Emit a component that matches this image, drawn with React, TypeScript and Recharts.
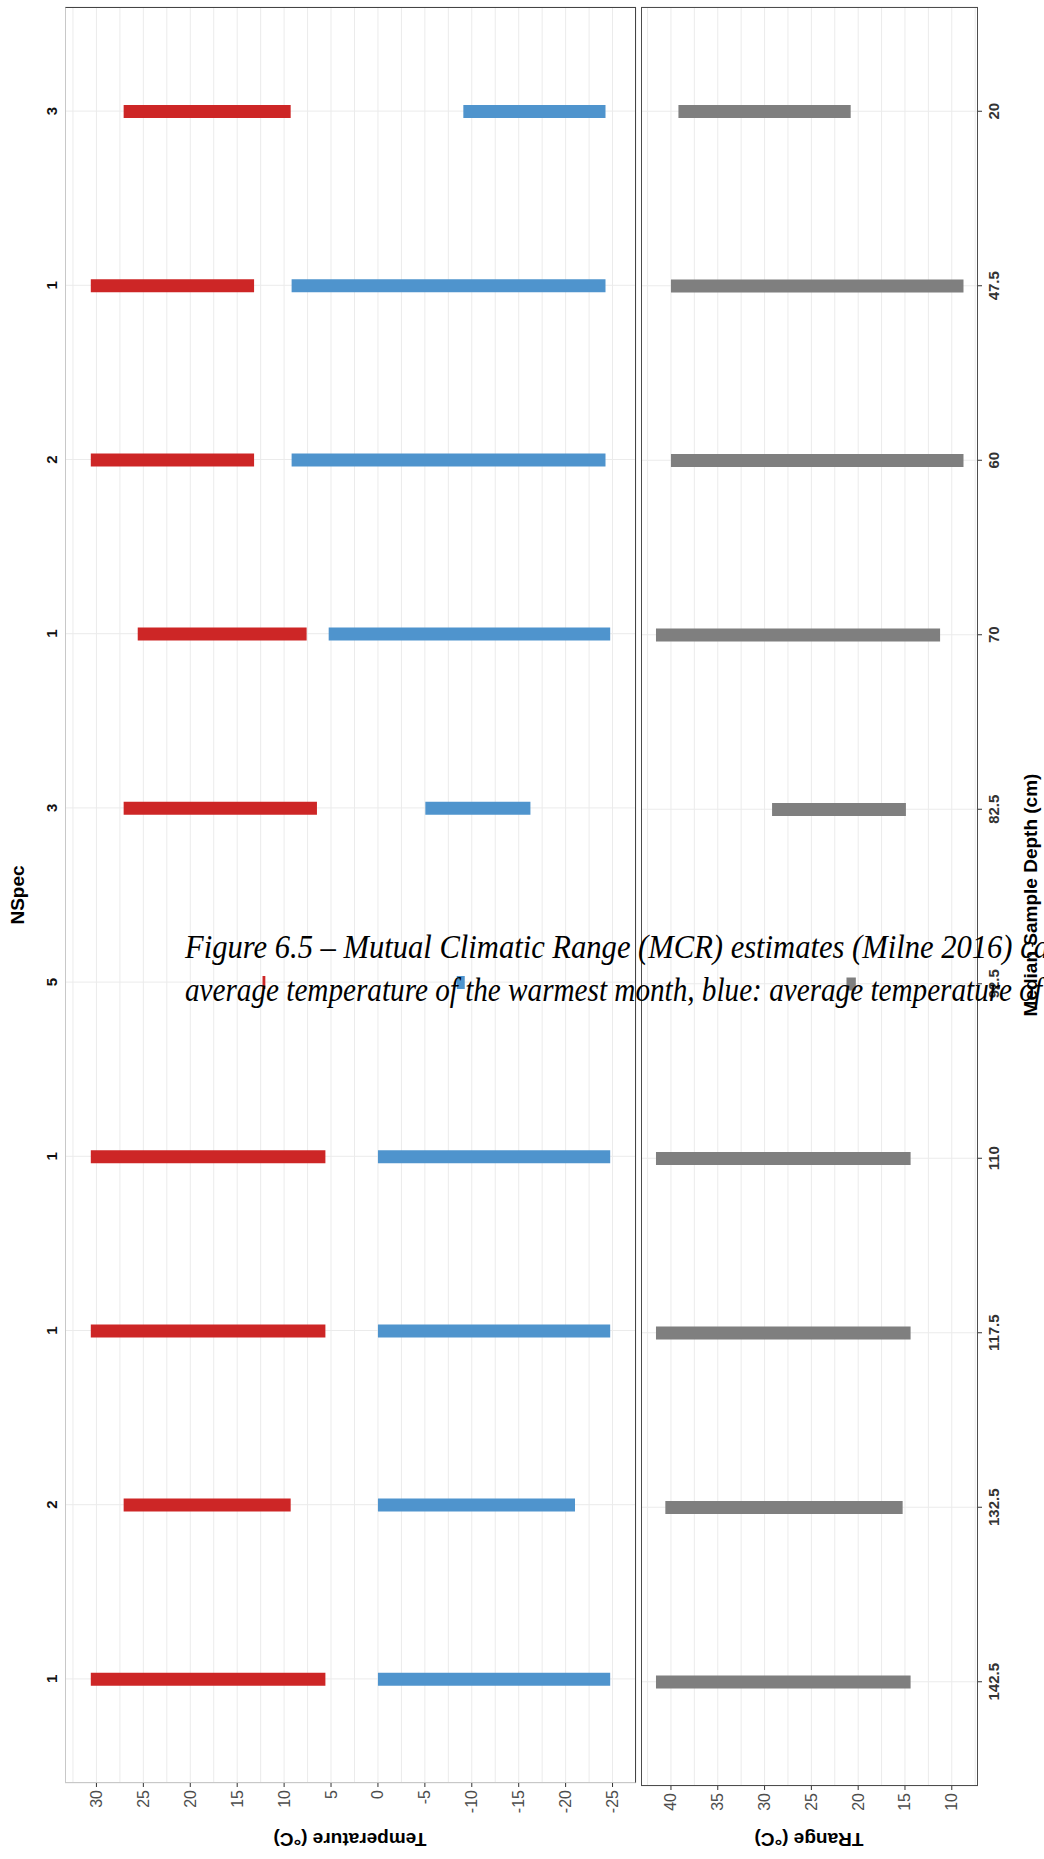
import React from "react";
import { BarChart, Bar, XAxis, YAxis, CartesianGrid } from "recharts";

// median sample depth (cm), top to bottom
const depths = ["20", "47.5", "60", "70", "82.5", "92.5", "110", "117.5", "132.5", "142.5"];
const nSpec = [3, 1, 2, 1, 3, 5, 1, 1, 2, 1];

// MCR: warmest month (red), coldest month (blue), range (grey)
const warmMin = [9.3, 13.2, 13.2, 7.6, 6.5, 12.0, 5.6, 5.6, 9.3, 5.6];
const warmMax = [27.1, 30.6, 30.6, 25.6, 27.1, 12.3, 30.6, 30.6, 27.1, 30.6];
const coldMin = [-24.25, -24.25, -24.25, -24.75, -16.25, -9.25, -24.75, -24.75, -21.0, -24.75];
const coldMax = [-9.1, 9.2, 9.2, 5.25, -5.05, -8.4, 0, 0, 0, 0];
const rangeMin = [20.8, 8.75, 8.75, 11.25, 14.9, 20.25, 14.4, 14.4, 15.25, 14.4];
const rangeMax = [39.2, 40.0, 40.0, 41.6, 29.2, 21.25, 41.6, 41.6, 40.6, 41.6];

const tempTicks = [30, 25, 20, 15, 10, 5, 0, -5, -10, -15, -20, -25];
const tempGrid = [32.5, 30, 27.5, 25, 22.5, 20, 17.5, 15, 12.5, 10, 7.5, 5, 2.5, 0, -2.5, -5, -7.5, -10, -12.5, -15, -17.5, -20, -22.5, -25, -27.5];
const rangeTicks = [40, 35, 30, 25, 20, 15, 10];
const rangeGrid = [42.5, 40, 37.5, 35, 32.5, 30, 27.5, 25, 22.5, 20, 17.5, 15, 12.5, 10, 7.5];

const tempData = depths.map((d, i) => ({
  depth: d,
  warm: [warmMin[i], warmMax[i]],
  cold: [coldMin[i], coldMax[i]],
}));
const rangeData = depths.map((d, i) => ({
  depth: d,
  trange: [rangeMin[i], rangeMax[i]],
}));

const SANS = "'Liberation Sans', Arial, sans-serif";
const SERIF = "'Liberation Serif', 'Times New Roman', serif";
const GRID = "#EBEBEB";

function ValueTick(props: any) {
  const { x, y, payload } = props;
  return (
    <text
      x={0}
      y={0}
      transform={`translate(${x},${y + 1}) rotate(-90)`}
      textAnchor="end"
      dominantBaseline="central"
      fontFamily={SANS}
      fontSize={16}
      fill="#4D4D4D"
    >
      {payload.value}
    </text>
  );
}

function NSpecTick(props: any) {
  const { x, y, payload } = props;
  const i = depths.indexOf(String(payload.value));
  return (
    <text
      x={0}
      y={0}
      transform={`translate(${x - 8},${y}) rotate(-90)`}
      textAnchor="middle"
      fontFamily={SANS}
      fontSize={15}
      fontWeight="bold"
      fill="#111"
    >
      {nSpec[i]}
    </text>
  );
}

function DepthTick(props: any) {
  const { x, y, payload } = props;
  return (
    <text
      x={0}
      y={0}
      transform={`translate(${x + 15},${y}) rotate(-90)`}
      textAnchor="middle"
      fontFamily={SANS}
      fontSize={15}
      fontWeight="bold"
      fill="#333"
    >
      {payload.value}
    </text>
  );
}

export default function App() {
  return (
    <div
      style={{
        position: "absolute",
        left: 0,
        top: 0,
        width: 1044,
        height: 1859,
        background: "#fff",
        overflow: "hidden",
      }}
    >
      <div style={{ position: "absolute", left: 0, top: 0 }}>
        <BarChart
          width={1044}
          height={1859}
          layout="vertical"
          data={tempData}
          barGap={-13}
          margin={{ top: 7, bottom: 46, left: 5, right: 408 }}
        >
          <CartesianGrid stroke={GRID} verticalValues={tempGrid} />
          <XAxis
            type="number"
            domain={[-27.5, 33.35]}
            reversed
            allowDataOverflow
            ticks={tempTicks}
            interval={0}
            axisLine={false}
            tickLine={{ stroke: "#333" }}
            tickSize={4}
            tick={(p: any) => <ValueTick {...p} />}
          />
          <YAxis
            type="category"
            dataKey="depth"
            padding={{ top: 17, bottom: 17 }}
            axisLine={false}
            tickLine={false}
            tickSize={0}
            tickMargin={0}
            interval={0}
            tick={(p: any) => <NSpecTick {...p} />}
          />
          <Bar dataKey="warm" fill="#CD2626" barSize={13} isAnimationActive={false} />
          <Bar dataKey="cold" fill="#4F94CD" barSize={13} isAnimationActive={false} />
        </BarChart>
      </div>

      <div style={{ position: "absolute", left: 0, top: 0 }}>
        <BarChart
          width={1044}
          height={1859}
          layout="vertical"
          data={rangeData}
          margin={{ top: 7, bottom: 43, left: 641, right: 6 }}
        >
          <CartesianGrid stroke={GRID} verticalValues={rangeGrid} />
          <XAxis
            type="number"
            domain={[7.2, 43.2]}
            reversed
            allowDataOverflow
            ticks={rangeTicks}
            interval={0}
            axisLine={false}
            tickLine={{ stroke: "#333" }}
            tickSize={4}
            tick={(p: any) => <ValueTick {...p} />}
          />
          <YAxis
            type="category"
            dataKey="depth"
            orientation="right"
            padding={{ top: 17, bottom: 17 }}
            axisLine={false}
            tickLine={{ stroke: "#333" }}
            tickSize={4}
            interval={0}
            tick={(p: any) => <DepthTick {...p} />}
          />
          <Bar dataKey="trange" fill="#7F7F7F" barSize={13} isAnimationActive={false} />
        </BarChart>
      </div>

      {/* panel frames */}
      <div
        style={{
          position: "absolute",
          left: 65,
          top: 7,
          width: 571,
          height: 1776,
          boxSizing: "border-box",
          borderTop: "1.3px solid #444",
          borderRight: "1.3px solid #444",
          borderLeft: "1.3px solid #C8C8C8",
          borderBottom: "1.3px solid #C8C8C8",
        }}
      />
      <div
        style={{
          position: "absolute",
          left: 641,
          top: 7,
          width: 337,
          height: 1779,
          boxSizing: "border-box",
          border: "1.3px solid #4D4D4D",
        }}
      />

      <svg
        width={1044}
        height={1859}
        style={{ position: "absolute", left: 0, top: 0, pointerEvents: "none" }}
      >
        <text
          transform="translate(17,895) rotate(-90)"
          textAnchor="middle"
          dominantBaseline="central"
          fontFamily={SANS}
          fontSize={19}
          fontWeight="bold"
        >
          NSpec
        </text>
        <text
          transform="translate(1030,895) rotate(-90)"
          textAnchor="middle"
          dominantBaseline="central"
          fontFamily={SANS}
          fontSize={19}
          fontWeight="bold"
        >
          Median Sample Depth (cm)
        </text>
        <text
          transform="translate(350,1839) rotate(180)"
          textAnchor="middle"
          dominantBaseline="central"
          fontFamily={SANS}
          fontSize={19}
          fontWeight="bold"
        >
          Temperature (°C)
        </text>
        <text
          transform="translate(809,1839) rotate(180)"
          textAnchor="middle"
          dominantBaseline="central"
          fontFamily={SANS}
          fontSize={19}
          fontWeight="bold"
        >
          TRange (°C)
        </text>
        {/* document caption that overlaps the figure */}
        <text
          x={185}
          y={958}
          fontFamily={SERIF}
          fontStyle="italic"
          fontSize={34}
          textLength={864}
          lengthAdjust="spacingAndGlyphs"
          fill="#000"
        >
          Figure 6.5 – Mutual Climatic Range (MCR) estimates (Milne 2016) ca
        </text>
        <text
          x={185}
          y={1001}
          fontFamily={SERIF}
          fontStyle="italic"
          fontSize={34}
          textLength={857}
          lengthAdjust="spacingAndGlyphs"
          fill="#000"
        >
          average temperature of the warmest month, blue: average temperature of
        </text>
      </svg>
    </div>
  );
}
